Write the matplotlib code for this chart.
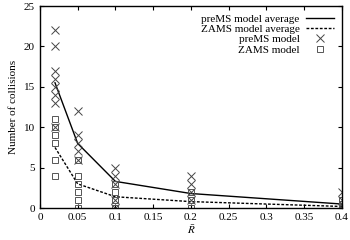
import matplotlib.pyplot as plt

plt.rcParams['font.family'] = ['Liberation Serif', 'DejaVu Serif']
plt.rcParams['mathtext.fontset'] = 'stix'

# mean radius values
r_vals = [0.02, 0.05, 0.1, 0.2, 0.4]

# averages
premss_avg = [15.5, 8.0, 3.3, 1.8, 0.5]
zams_avg = [7.5, 3.0, 1.4, 0.8, 0.2]

# individual runs
premss_x = [0.02]*8 + [0.05]*5 + [0.1]*5 + [0.2]*4 + [0.4]*3
premss_y = [22, 20, 17, 16, 15, 14, 13, 10,
            12, 9, 8, 7, 6,
            5, 4, 3, 1, 0,
            4, 3, 2, 1,
            2, 1, 0]
zams_x = [0.02]*6 + [0.05]*6 + [0.1]*4 + [0.2]*3 + [0.4]*3
zams_y = [11, 10, 9, 8, 6, 4,
          6, 4, 3, 2, 1, 0,
          3, 2, 1, 0,
          2, 1, 0,
          1, 0.5, 0]

fig = plt.figure(figsize=(3.5, 2.4), dpi=100)
ax = fig.add_axes([0.114, 0.133, 0.863, 0.842])

ax.plot(r_vals, premss_avg, color='black', lw=1.0, label='preMS model average')
ax.plot(r_vals, zams_avg, color='black', lw=1.0, ls=(0, (2, 1.2)), label='ZAMS model average')
ax.plot(premss_x, premss_y, ls='none', marker='x', ms=6, mew=0.7, color='#444444', label='preMS model')
ax.plot(zams_x, zams_y, ls='none', marker='s', ms=5, mew=0.7, mfc='none', mec='#555555', label='ZAMS model')

ax.set_xlim(0, 0.4)
ax.set_ylim(0, 25)
ax.set_xticks([0, 0.05, 0.1, 0.15, 0.2, 0.25, 0.3, 0.35, 0.4])
ax.set_xticklabels(['0', '0.05', '0.1', '0.15', '0.2', '0.25', '0.3', '0.35', '0.4'])
ax.set_yticks([0, 5, 10, 15, 20, 25])
ax.tick_params(direction='in', top=True, right=True, labelsize=8, length=3, width=0.8)
for s in ax.spines.values():
    s.set_linewidth(1.0)

ax.set_xlabel(r'$\bar{R}$', fontsize=8, labelpad=1)
ax.set_ylabel('Number of collisions', fontsize=8, labelpad=4)

ax.legend(loc='upper right', frameon=False, markerfirst=False, fontsize=8,
          handlelength=2.5, labelspacing=0.05, borderaxespad=0.3, handletextpad=0.6)

fig.savefig('out.png', dpi=100)
